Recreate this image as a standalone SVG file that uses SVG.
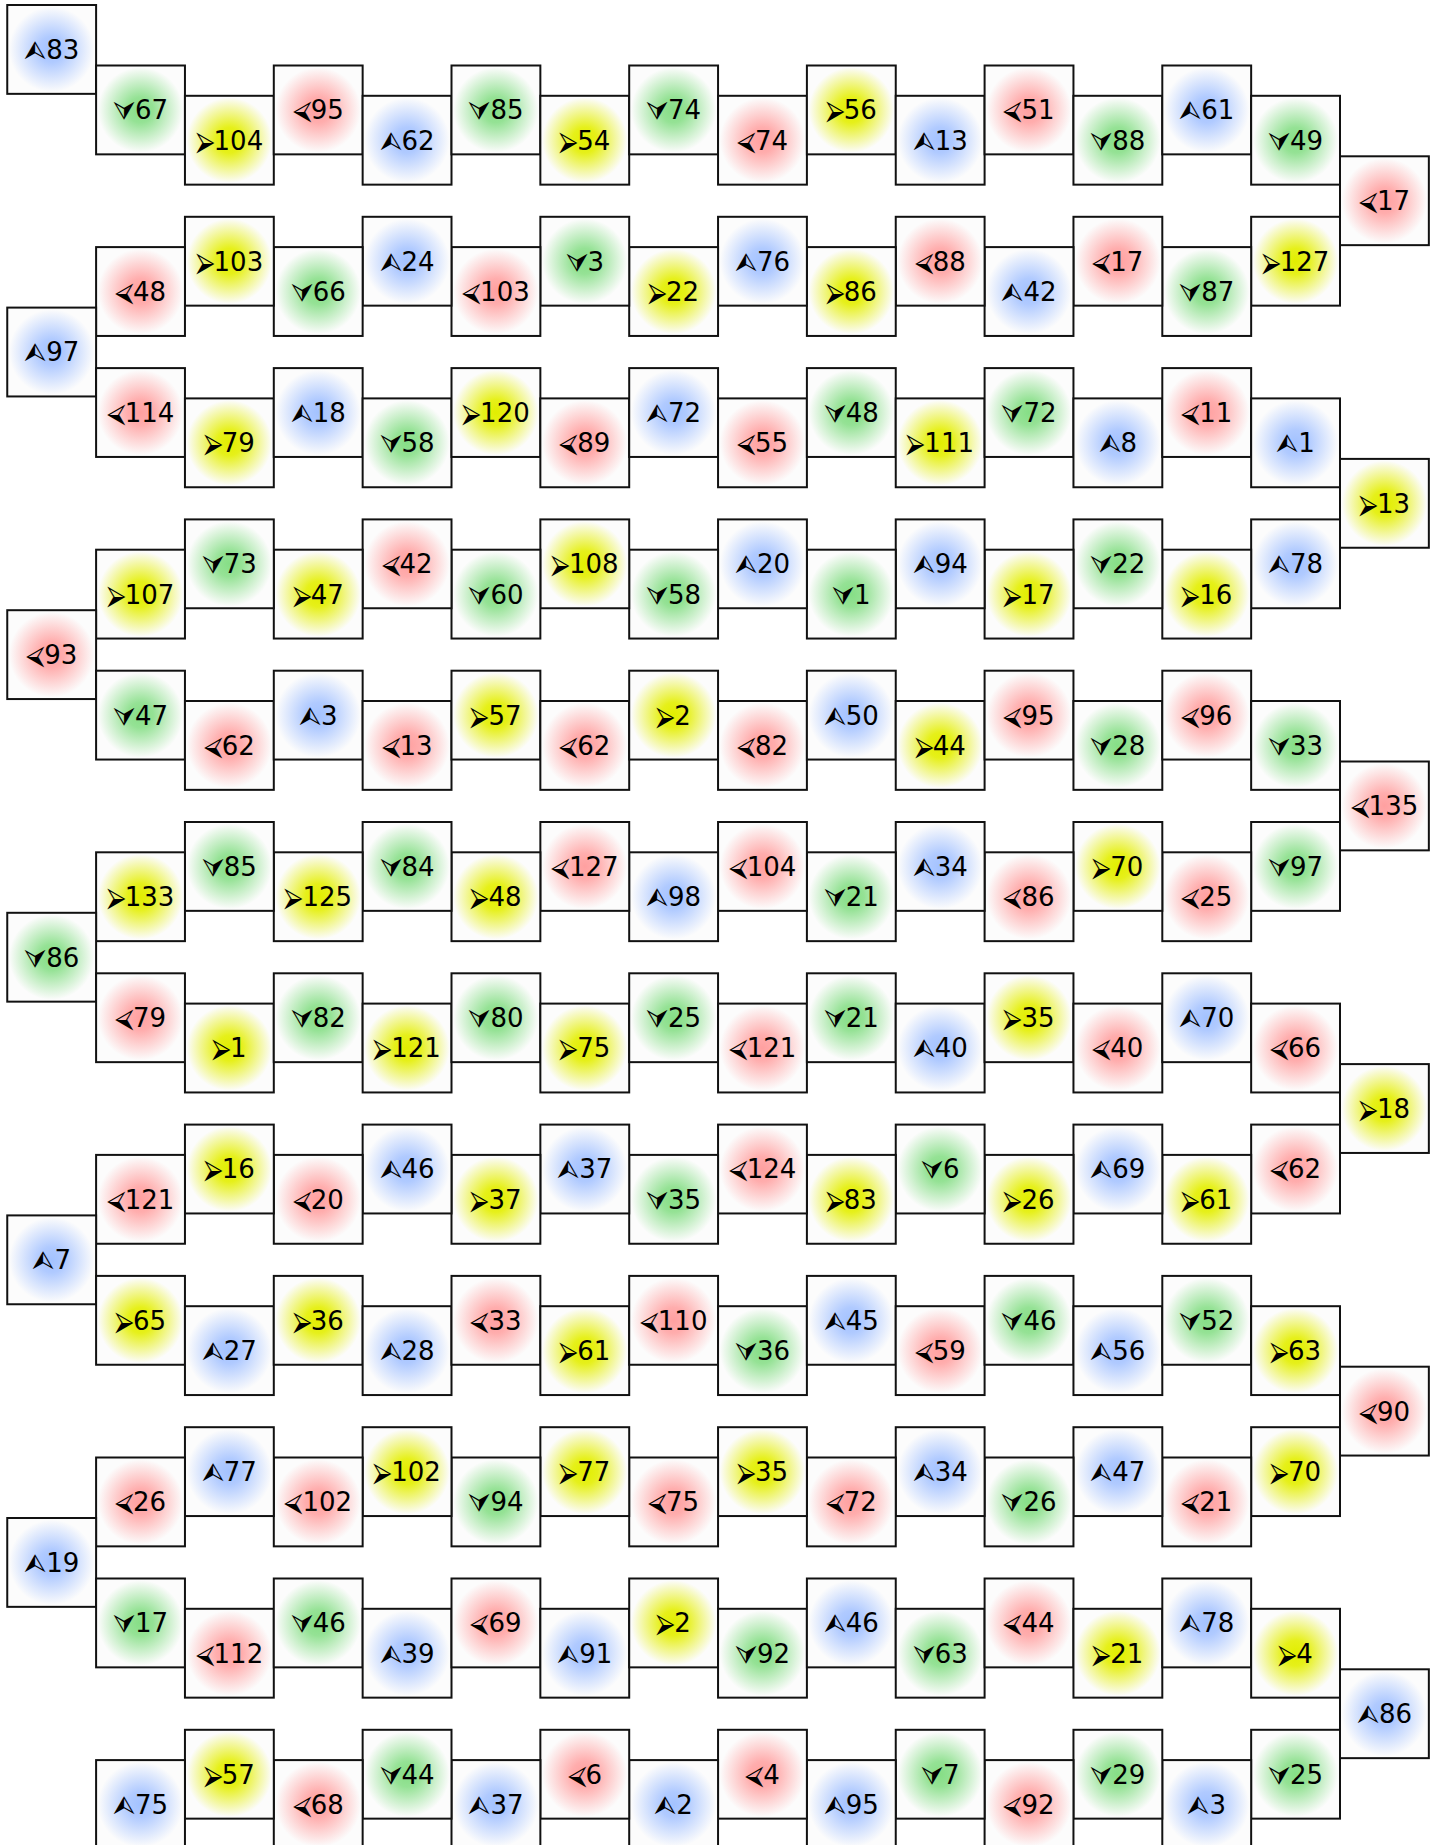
<svg xmlns="http://www.w3.org/2000/svg" width="1443" height="1845" viewBox="0 0 1443 1845">
<defs>
<radialGradient id="gu" cx="0.5" cy="0.5" r="0.48"><stop offset="0" stop-color="#a3c2ff"/><stop offset="0.3" stop-color="#b0caff"/><stop offset="1" stop-color="#fcfcfc"/></radialGradient>
<radialGradient id="gd" cx="0.5" cy="0.5" r="0.48"><stop offset="0" stop-color="#86de86"/><stop offset="0.3" stop-color="#95e295"/><stop offset="1" stop-color="#fcfcfc"/></radialGradient>
<radialGradient id="gl" cx="0.5" cy="0.5" r="0.48"><stop offset="0" stop-color="#ffa0a0"/><stop offset="0.3" stop-color="#ffadad"/><stop offset="1" stop-color="#fcfcfc"/></radialGradient>
<radialGradient id="gr" cx="0.5" cy="0.5" r="0.48"><stop offset="0" stop-color="#e2ee00"/><stop offset="0.3" stop-color="#e6f01a"/><stop offset="1" stop-color="#fcfcfc"/></radialGradient>
</defs>
<style>
#nodes rect{stroke:#111;stroke-width:2}
.u rect{fill:url(#gu)} .d rect{fill:url(#gd)} .l rect{fill:url(#gl)} .r rect{fill:url(#gr)}
#nodes text{font-family:"DejaVu Sans","Noto Sans",sans-serif;font-size:26px;fill:#000;text-anchor:middle}
</style>
<rect x="0" y="0" width="1443" height="1845" fill="#ffffff"/>
<g id="connectors"></g>
<g id="nodes">
<!-- k0 -->
<g id="n001" class="u" transform="translate(7.25,5)"><rect width="88.85" height="88.85"/><text x="44.43" y="53.9">⮙83</text></g>
<g id="n002" class="d" transform="translate(96.1,65.5)"><rect width="88.85" height="88.85"/><text x="44.43" y="53.9">⮛67</text></g>
<g id="n003" class="r" transform="translate(184.95,95.8)"><rect width="88.85" height="88.85"/><text x="44.43" y="53.9">⮚104</text></g>
<g id="n004" class="l" transform="translate(273.8,65.5)"><rect width="88.85" height="88.85"/><text x="44.43" y="53.9">⮘95</text></g>
<g id="n005" class="u" transform="translate(362.65,95.8)"><rect width="88.85" height="88.85"/><text x="44.43" y="53.9">⮙62</text></g>
<g id="n006" class="d" transform="translate(451.5,65.5)"><rect width="88.85" height="88.85"/><text x="44.43" y="53.9">⮛85</text></g>
<g id="n007" class="r" transform="translate(540.35,95.8)"><rect width="88.85" height="88.85"/><text x="44.43" y="53.9">⮚54</text></g>
<g id="n008" class="d" transform="translate(629.2,65.5)"><rect width="88.85" height="88.85"/><text x="44.43" y="53.9">⮛74</text></g>
<g id="n009" class="l" transform="translate(718.05,95.8)"><rect width="88.85" height="88.85"/><text x="44.43" y="53.9">⮘74</text></g>
<g id="n010" class="r" transform="translate(806.9,65.5)"><rect width="88.85" height="88.85"/><text x="44.43" y="53.9">⮚56</text></g>
<g id="n011" class="u" transform="translate(895.75,95.8)"><rect width="88.85" height="88.85"/><text x="44.43" y="53.9">⮙13</text></g>
<g id="n012" class="l" transform="translate(984.6,65.5)"><rect width="88.85" height="88.85"/><text x="44.43" y="53.9">⮘51</text></g>
<g id="n013" class="d" transform="translate(1073.45,95.8)"><rect width="88.85" height="88.85"/><text x="44.43" y="53.9">⮛88</text></g>
<g id="n014" class="u" transform="translate(1162.3,65.5)"><rect width="88.85" height="88.85"/><text x="44.43" y="53.9">⮙61</text></g>
<g id="n015" class="d" transform="translate(1251.15,95.8)"><rect width="88.85" height="88.85"/><text x="44.43" y="53.9">⮛49</text></g>
<!-- k1 -->
<g id="n016" class="l" transform="translate(1340,156.3)"><rect width="88.85" height="88.85"/><text x="44.43" y="53.9">⮘17</text></g>
<g id="n017" class="r" transform="translate(1251.15,216.8)"><rect width="88.85" height="88.85"/><text x="44.43" y="53.9">⮚127</text></g>
<g id="n018" class="d" transform="translate(1162.3,247.1)"><rect width="88.85" height="88.85"/><text x="44.43" y="53.9">⮛87</text></g>
<g id="n019" class="l" transform="translate(1073.45,216.8)"><rect width="88.85" height="88.85"/><text x="44.43" y="53.9">⮘17</text></g>
<g id="n020" class="u" transform="translate(984.6,247.1)"><rect width="88.85" height="88.85"/><text x="44.43" y="53.9">⮙42</text></g>
<g id="n021" class="l" transform="translate(895.75,216.8)"><rect width="88.85" height="88.85"/><text x="44.43" y="53.9">⮘88</text></g>
<g id="n022" class="r" transform="translate(806.9,247.1)"><rect width="88.85" height="88.85"/><text x="44.43" y="53.9">⮚86</text></g>
<g id="n023" class="u" transform="translate(718.05,216.8)"><rect width="88.85" height="88.85"/><text x="44.43" y="53.9">⮙76</text></g>
<g id="n024" class="r" transform="translate(629.2,247.1)"><rect width="88.85" height="88.85"/><text x="44.43" y="53.9">⮚22</text></g>
<g id="n025" class="d" transform="translate(540.35,216.8)"><rect width="88.85" height="88.85"/><text x="44.43" y="53.9">⮛3</text></g>
<g id="n026" class="l" transform="translate(451.5,247.1)"><rect width="88.85" height="88.85"/><text x="44.43" y="53.9">⮘103</text></g>
<g id="n027" class="u" transform="translate(362.65,216.8)"><rect width="88.85" height="88.85"/><text x="44.43" y="53.9">⮙24</text></g>
<g id="n028" class="d" transform="translate(273.8,247.1)"><rect width="88.85" height="88.85"/><text x="44.43" y="53.9">⮛66</text></g>
<g id="n029" class="r" transform="translate(184.95,216.8)"><rect width="88.85" height="88.85"/><text x="44.43" y="53.9">⮚103</text></g>
<g id="n030" class="l" transform="translate(96.1,247.1)"><rect width="88.85" height="88.85"/><text x="44.43" y="53.9">⮘48</text></g>
<!-- k2 -->
<g id="n031" class="u" transform="translate(7.25,307.6)"><rect width="88.85" height="88.85"/><text x="44.43" y="53.9">⮙97</text></g>
<g id="n032" class="l" transform="translate(96.1,368.1)"><rect width="88.85" height="88.85"/><text x="44.43" y="53.9">⮘114</text></g>
<g id="n033" class="r" transform="translate(184.95,398.4)"><rect width="88.85" height="88.85"/><text x="44.43" y="53.9">⮚79</text></g>
<g id="n034" class="u" transform="translate(273.8,368.1)"><rect width="88.85" height="88.85"/><text x="44.43" y="53.9">⮙18</text></g>
<g id="n035" class="d" transform="translate(362.65,398.4)"><rect width="88.85" height="88.85"/><text x="44.43" y="53.9">⮛58</text></g>
<g id="n036" class="r" transform="translate(451.5,368.1)"><rect width="88.85" height="88.85"/><text x="44.43" y="53.9">⮚120</text></g>
<g id="n037" class="l" transform="translate(540.35,398.4)"><rect width="88.85" height="88.85"/><text x="44.43" y="53.9">⮘89</text></g>
<g id="n038" class="u" transform="translate(629.2,368.1)"><rect width="88.85" height="88.85"/><text x="44.43" y="53.9">⮙72</text></g>
<g id="n039" class="l" transform="translate(718.05,398.4)"><rect width="88.85" height="88.85"/><text x="44.43" y="53.9">⮘55</text></g>
<g id="n040" class="d" transform="translate(806.9,368.1)"><rect width="88.85" height="88.85"/><text x="44.43" y="53.9">⮛48</text></g>
<g id="n041" class="r" transform="translate(895.75,398.4)"><rect width="88.85" height="88.85"/><text x="44.43" y="53.9">⮚111</text></g>
<g id="n042" class="d" transform="translate(984.6,368.1)"><rect width="88.85" height="88.85"/><text x="44.43" y="53.9">⮛72</text></g>
<g id="n043" class="u" transform="translate(1073.45,398.4)"><rect width="88.85" height="88.85"/><text x="44.43" y="53.9">⮙8</text></g>
<g id="n044" class="l" transform="translate(1162.3,368.1)"><rect width="88.85" height="88.85"/><text x="44.43" y="53.9">⮘11</text></g>
<g id="n045" class="u" transform="translate(1251.15,398.4)"><rect width="88.85" height="88.85"/><text x="44.43" y="53.9">⮙1</text></g>
<!-- k3 -->
<g id="n046" class="r" transform="translate(1340,458.9)"><rect width="88.85" height="88.85"/><text x="44.43" y="53.9">⮚13</text></g>
<g id="n047" class="u" transform="translate(1251.15,519.4)"><rect width="88.85" height="88.85"/><text x="44.43" y="53.9">⮙78</text></g>
<g id="n048" class="r" transform="translate(1162.3,549.7)"><rect width="88.85" height="88.85"/><text x="44.43" y="53.9">⮚16</text></g>
<g id="n049" class="d" transform="translate(1073.45,519.4)"><rect width="88.85" height="88.85"/><text x="44.43" y="53.9">⮛22</text></g>
<g id="n050" class="r" transform="translate(984.6,549.7)"><rect width="88.85" height="88.85"/><text x="44.43" y="53.9">⮚17</text></g>
<g id="n051" class="u" transform="translate(895.75,519.4)"><rect width="88.85" height="88.85"/><text x="44.43" y="53.9">⮙94</text></g>
<g id="n052" class="d" transform="translate(806.9,549.7)"><rect width="88.85" height="88.85"/><text x="44.43" y="53.9">⮛1</text></g>
<g id="n053" class="u" transform="translate(718.05,519.4)"><rect width="88.85" height="88.85"/><text x="44.43" y="53.9">⮙20</text></g>
<g id="n054" class="d" transform="translate(629.2,549.7)"><rect width="88.85" height="88.85"/><text x="44.43" y="53.9">⮛58</text></g>
<g id="n055" class="r" transform="translate(540.35,519.4)"><rect width="88.85" height="88.85"/><text x="44.43" y="53.9">⮚108</text></g>
<g id="n056" class="d" transform="translate(451.5,549.7)"><rect width="88.85" height="88.85"/><text x="44.43" y="53.9">⮛60</text></g>
<g id="n057" class="l" transform="translate(362.65,519.4)"><rect width="88.85" height="88.85"/><text x="44.43" y="53.9">⮘42</text></g>
<g id="n058" class="r" transform="translate(273.8,549.7)"><rect width="88.85" height="88.85"/><text x="44.43" y="53.9">⮚47</text></g>
<g id="n059" class="d" transform="translate(184.95,519.4)"><rect width="88.85" height="88.85"/><text x="44.43" y="53.9">⮛73</text></g>
<g id="n060" class="r" transform="translate(96.1,549.7)"><rect width="88.85" height="88.85"/><text x="44.43" y="53.9">⮚107</text></g>
<!-- k4 -->
<g id="n061" class="l" transform="translate(7.25,610.2)"><rect width="88.85" height="88.85"/><text x="44.43" y="53.9">⮘93</text></g>
<g id="n062" class="d" transform="translate(96.1,670.7)"><rect width="88.85" height="88.85"/><text x="44.43" y="53.9">⮛47</text></g>
<g id="n063" class="l" transform="translate(184.95,701)"><rect width="88.85" height="88.85"/><text x="44.43" y="53.9">⮘62</text></g>
<g id="n064" class="u" transform="translate(273.8,670.7)"><rect width="88.85" height="88.85"/><text x="44.43" y="53.9">⮙3</text></g>
<g id="n065" class="l" transform="translate(362.65,701)"><rect width="88.85" height="88.85"/><text x="44.43" y="53.9">⮘13</text></g>
<g id="n066" class="r" transform="translate(451.5,670.7)"><rect width="88.85" height="88.85"/><text x="44.43" y="53.9">⮚57</text></g>
<g id="n067" class="l" transform="translate(540.35,701)"><rect width="88.85" height="88.85"/><text x="44.43" y="53.9">⮘62</text></g>
<g id="n068" class="r" transform="translate(629.2,670.7)"><rect width="88.85" height="88.85"/><text x="44.43" y="53.9">⮚2</text></g>
<g id="n069" class="l" transform="translate(718.05,701)"><rect width="88.85" height="88.85"/><text x="44.43" y="53.9">⮘82</text></g>
<g id="n070" class="u" transform="translate(806.9,670.7)"><rect width="88.85" height="88.85"/><text x="44.43" y="53.9">⮙50</text></g>
<g id="n071" class="r" transform="translate(895.75,701)"><rect width="88.85" height="88.85"/><text x="44.43" y="53.9">⮚44</text></g>
<g id="n072" class="l" transform="translate(984.6,670.7)"><rect width="88.85" height="88.85"/><text x="44.43" y="53.9">⮘95</text></g>
<g id="n073" class="d" transform="translate(1073.45,701)"><rect width="88.85" height="88.85"/><text x="44.43" y="53.9">⮛28</text></g>
<g id="n074" class="l" transform="translate(1162.3,670.7)"><rect width="88.85" height="88.85"/><text x="44.43" y="53.9">⮘96</text></g>
<g id="n075" class="d" transform="translate(1251.15,701)"><rect width="88.85" height="88.85"/><text x="44.43" y="53.9">⮛33</text></g>
<!-- k5 -->
<g id="n076" class="l" transform="translate(1340,761.5)"><rect width="88.85" height="88.85"/><text x="44.43" y="53.9">⮘135</text></g>
<g id="n077" class="d" transform="translate(1251.15,822)"><rect width="88.85" height="88.85"/><text x="44.43" y="53.9">⮛97</text></g>
<g id="n078" class="l" transform="translate(1162.3,852.3)"><rect width="88.85" height="88.85"/><text x="44.43" y="53.9">⮘25</text></g>
<g id="n079" class="r" transform="translate(1073.45,822)"><rect width="88.85" height="88.85"/><text x="44.43" y="53.9">⮚70</text></g>
<g id="n080" class="l" transform="translate(984.6,852.3)"><rect width="88.85" height="88.85"/><text x="44.43" y="53.9">⮘86</text></g>
<g id="n081" class="u" transform="translate(895.75,822)"><rect width="88.85" height="88.85"/><text x="44.43" y="53.9">⮙34</text></g>
<g id="n082" class="d" transform="translate(806.9,852.3)"><rect width="88.85" height="88.85"/><text x="44.43" y="53.9">⮛21</text></g>
<g id="n083" class="l" transform="translate(718.05,822)"><rect width="88.85" height="88.85"/><text x="44.43" y="53.9">⮘104</text></g>
<g id="n084" class="u" transform="translate(629.2,852.3)"><rect width="88.85" height="88.85"/><text x="44.43" y="53.9">⮙98</text></g>
<g id="n085" class="l" transform="translate(540.35,822)"><rect width="88.85" height="88.85"/><text x="44.43" y="53.9">⮘127</text></g>
<g id="n086" class="r" transform="translate(451.5,852.3)"><rect width="88.85" height="88.85"/><text x="44.43" y="53.9">⮚48</text></g>
<g id="n087" class="d" transform="translate(362.65,822)"><rect width="88.85" height="88.85"/><text x="44.43" y="53.9">⮛84</text></g>
<g id="n088" class="r" transform="translate(273.8,852.3)"><rect width="88.85" height="88.85"/><text x="44.43" y="53.9">⮚125</text></g>
<g id="n089" class="d" transform="translate(184.95,822)"><rect width="88.85" height="88.85"/><text x="44.43" y="53.9">⮛85</text></g>
<g id="n090" class="r" transform="translate(96.1,852.3)"><rect width="88.85" height="88.85"/><text x="44.43" y="53.9">⮚133</text></g>
<!-- k6 -->
<g id="n091" class="d" transform="translate(7.25,912.8)"><rect width="88.85" height="88.85"/><text x="44.43" y="53.9">⮛86</text></g>
<g id="n092" class="l" transform="translate(96.1,973.3)"><rect width="88.85" height="88.85"/><text x="44.43" y="53.9">⮘79</text></g>
<g id="n093" class="r" transform="translate(184.95,1003.6)"><rect width="88.85" height="88.85"/><text x="44.43" y="53.9">⮚1</text></g>
<g id="n094" class="d" transform="translate(273.8,973.3)"><rect width="88.85" height="88.85"/><text x="44.43" y="53.9">⮛82</text></g>
<g id="n095" class="r" transform="translate(362.65,1003.6)"><rect width="88.85" height="88.85"/><text x="44.43" y="53.9">⮚121</text></g>
<g id="n096" class="d" transform="translate(451.5,973.3)"><rect width="88.85" height="88.85"/><text x="44.43" y="53.9">⮛80</text></g>
<g id="n097" class="r" transform="translate(540.35,1003.6)"><rect width="88.85" height="88.85"/><text x="44.43" y="53.9">⮚75</text></g>
<g id="n098" class="d" transform="translate(629.2,973.3)"><rect width="88.85" height="88.85"/><text x="44.43" y="53.9">⮛25</text></g>
<g id="n099" class="l" transform="translate(718.05,1003.6)"><rect width="88.85" height="88.85"/><text x="44.43" y="53.9">⮘121</text></g>
<g id="n100" class="d" transform="translate(806.9,973.3)"><rect width="88.85" height="88.85"/><text x="44.43" y="53.9">⮛21</text></g>
<g id="n101" class="u" transform="translate(895.75,1003.6)"><rect width="88.85" height="88.85"/><text x="44.43" y="53.9">⮙40</text></g>
<g id="n102" class="r" transform="translate(984.6,973.3)"><rect width="88.85" height="88.85"/><text x="44.43" y="53.9">⮚35</text></g>
<g id="n103" class="l" transform="translate(1073.45,1003.6)"><rect width="88.85" height="88.85"/><text x="44.43" y="53.9">⮘40</text></g>
<g id="n104" class="u" transform="translate(1162.3,973.3)"><rect width="88.85" height="88.85"/><text x="44.43" y="53.9">⮙70</text></g>
<g id="n105" class="l" transform="translate(1251.15,1003.6)"><rect width="88.85" height="88.85"/><text x="44.43" y="53.9">⮘66</text></g>
<!-- k7 -->
<g id="n106" class="r" transform="translate(1340,1064.1)"><rect width="88.85" height="88.85"/><text x="44.43" y="53.9">⮚18</text></g>
<g id="n107" class="l" transform="translate(1251.15,1124.6)"><rect width="88.85" height="88.85"/><text x="44.43" y="53.9">⮘62</text></g>
<g id="n108" class="r" transform="translate(1162.3,1154.9)"><rect width="88.85" height="88.85"/><text x="44.43" y="53.9">⮚61</text></g>
<g id="n109" class="u" transform="translate(1073.45,1124.6)"><rect width="88.85" height="88.85"/><text x="44.43" y="53.9">⮙69</text></g>
<g id="n110" class="r" transform="translate(984.6,1154.9)"><rect width="88.85" height="88.85"/><text x="44.43" y="53.9">⮚26</text></g>
<g id="n111" class="d" transform="translate(895.75,1124.6)"><rect width="88.85" height="88.85"/><text x="44.43" y="53.9">⮛6</text></g>
<g id="n112" class="r" transform="translate(806.9,1154.9)"><rect width="88.85" height="88.85"/><text x="44.43" y="53.9">⮚83</text></g>
<g id="n113" class="l" transform="translate(718.05,1124.6)"><rect width="88.85" height="88.85"/><text x="44.43" y="53.9">⮘124</text></g>
<g id="n114" class="d" transform="translate(629.2,1154.9)"><rect width="88.85" height="88.85"/><text x="44.43" y="53.9">⮛35</text></g>
<g id="n115" class="u" transform="translate(540.35,1124.6)"><rect width="88.85" height="88.85"/><text x="44.43" y="53.9">⮙37</text></g>
<g id="n116" class="r" transform="translate(451.5,1154.9)"><rect width="88.85" height="88.85"/><text x="44.43" y="53.9">⮚37</text></g>
<g id="n117" class="u" transform="translate(362.65,1124.6)"><rect width="88.85" height="88.85"/><text x="44.43" y="53.9">⮙46</text></g>
<g id="n118" class="l" transform="translate(273.8,1154.9)"><rect width="88.85" height="88.85"/><text x="44.43" y="53.9">⮘20</text></g>
<g id="n119" class="r" transform="translate(184.95,1124.6)"><rect width="88.85" height="88.85"/><text x="44.43" y="53.9">⮚16</text></g>
<g id="n120" class="l" transform="translate(96.1,1154.9)"><rect width="88.85" height="88.85"/><text x="44.43" y="53.9">⮘121</text></g>
<!-- k8 -->
<g id="n121" class="u" transform="translate(7.25,1215.4)"><rect width="88.85" height="88.85"/><text x="44.43" y="53.9">⮙7</text></g>
<g id="n122" class="r" transform="translate(96.1,1275.9)"><rect width="88.85" height="88.85"/><text x="44.43" y="53.9">⮚65</text></g>
<g id="n123" class="u" transform="translate(184.95,1306.2)"><rect width="88.85" height="88.85"/><text x="44.43" y="53.9">⮙27</text></g>
<g id="n124" class="r" transform="translate(273.8,1275.9)"><rect width="88.85" height="88.85"/><text x="44.43" y="53.9">⮚36</text></g>
<g id="n125" class="u" transform="translate(362.65,1306.2)"><rect width="88.85" height="88.85"/><text x="44.43" y="53.9">⮙28</text></g>
<g id="n126" class="l" transform="translate(451.5,1275.9)"><rect width="88.85" height="88.85"/><text x="44.43" y="53.9">⮘33</text></g>
<g id="n127" class="r" transform="translate(540.35,1306.2)"><rect width="88.85" height="88.85"/><text x="44.43" y="53.9">⮚61</text></g>
<g id="n128" class="l" transform="translate(629.2,1275.9)"><rect width="88.85" height="88.85"/><text x="44.43" y="53.9">⮘110</text></g>
<g id="n129" class="d" transform="translate(718.05,1306.2)"><rect width="88.85" height="88.85"/><text x="44.43" y="53.9">⮛36</text></g>
<g id="n130" class="u" transform="translate(806.9,1275.9)"><rect width="88.85" height="88.85"/><text x="44.43" y="53.9">⮙45</text></g>
<g id="n131" class="l" transform="translate(895.75,1306.2)"><rect width="88.85" height="88.85"/><text x="44.43" y="53.9">⮘59</text></g>
<g id="n132" class="d" transform="translate(984.6,1275.9)"><rect width="88.85" height="88.85"/><text x="44.43" y="53.9">⮛46</text></g>
<g id="n133" class="u" transform="translate(1073.45,1306.2)"><rect width="88.85" height="88.85"/><text x="44.43" y="53.9">⮙56</text></g>
<g id="n134" class="d" transform="translate(1162.3,1275.9)"><rect width="88.85" height="88.85"/><text x="44.43" y="53.9">⮛52</text></g>
<g id="n135" class="r" transform="translate(1251.15,1306.2)"><rect width="88.85" height="88.85"/><text x="44.43" y="53.9">⮚63</text></g>
<!-- k9 -->
<g id="n136" class="l" transform="translate(1340,1366.7)"><rect width="88.85" height="88.85"/><text x="44.43" y="53.9">⮘90</text></g>
<g id="n137" class="r" transform="translate(1251.15,1427.2)"><rect width="88.85" height="88.85"/><text x="44.43" y="53.9">⮚70</text></g>
<g id="n138" class="l" transform="translate(1162.3,1457.5)"><rect width="88.85" height="88.85"/><text x="44.43" y="53.9">⮘21</text></g>
<g id="n139" class="u" transform="translate(1073.45,1427.2)"><rect width="88.85" height="88.85"/><text x="44.43" y="53.9">⮙47</text></g>
<g id="n140" class="d" transform="translate(984.6,1457.5)"><rect width="88.85" height="88.85"/><text x="44.43" y="53.9">⮛26</text></g>
<g id="n141" class="u" transform="translate(895.75,1427.2)"><rect width="88.85" height="88.85"/><text x="44.43" y="53.9">⮙34</text></g>
<g id="n142" class="l" transform="translate(806.9,1457.5)"><rect width="88.85" height="88.85"/><text x="44.43" y="53.9">⮘72</text></g>
<g id="n143" class="r" transform="translate(718.05,1427.2)"><rect width="88.85" height="88.85"/><text x="44.43" y="53.9">⮚35</text></g>
<g id="n144" class="l" transform="translate(629.2,1457.5)"><rect width="88.85" height="88.85"/><text x="44.43" y="53.9">⮘75</text></g>
<g id="n145" class="r" transform="translate(540.35,1427.2)"><rect width="88.85" height="88.85"/><text x="44.43" y="53.9">⮚77</text></g>
<g id="n146" class="d" transform="translate(451.5,1457.5)"><rect width="88.85" height="88.85"/><text x="44.43" y="53.9">⮛94</text></g>
<g id="n147" class="r" transform="translate(362.65,1427.2)"><rect width="88.85" height="88.85"/><text x="44.43" y="53.9">⮚102</text></g>
<g id="n148" class="l" transform="translate(273.8,1457.5)"><rect width="88.85" height="88.85"/><text x="44.43" y="53.9">⮘102</text></g>
<g id="n149" class="u" transform="translate(184.95,1427.2)"><rect width="88.85" height="88.85"/><text x="44.43" y="53.9">⮙77</text></g>
<g id="n150" class="l" transform="translate(96.1,1457.5)"><rect width="88.85" height="88.85"/><text x="44.43" y="53.9">⮘26</text></g>
<!-- k10 -->
<g id="n151" class="u" transform="translate(7.25,1518)"><rect width="88.85" height="88.85"/><text x="44.43" y="53.9">⮙19</text></g>
<g id="n152" class="d" transform="translate(96.1,1578.5)"><rect width="88.85" height="88.85"/><text x="44.43" y="53.9">⮛17</text></g>
<g id="n153" class="l" transform="translate(184.95,1608.8)"><rect width="88.85" height="88.85"/><text x="44.43" y="53.9">⮘112</text></g>
<g id="n154" class="d" transform="translate(273.8,1578.5)"><rect width="88.85" height="88.85"/><text x="44.43" y="53.9">⮛46</text></g>
<g id="n155" class="u" transform="translate(362.65,1608.8)"><rect width="88.85" height="88.85"/><text x="44.43" y="53.9">⮙39</text></g>
<g id="n156" class="l" transform="translate(451.5,1578.5)"><rect width="88.85" height="88.85"/><text x="44.43" y="53.9">⮘69</text></g>
<g id="n157" class="u" transform="translate(540.35,1608.8)"><rect width="88.85" height="88.85"/><text x="44.43" y="53.9">⮙91</text></g>
<g id="n158" class="r" transform="translate(629.2,1578.5)"><rect width="88.85" height="88.85"/><text x="44.43" y="53.9">⮚2</text></g>
<g id="n159" class="d" transform="translate(718.05,1608.8)"><rect width="88.85" height="88.85"/><text x="44.43" y="53.9">⮛92</text></g>
<g id="n160" class="u" transform="translate(806.9,1578.5)"><rect width="88.85" height="88.85"/><text x="44.43" y="53.9">⮙46</text></g>
<g id="n161" class="d" transform="translate(895.75,1608.8)"><rect width="88.85" height="88.85"/><text x="44.43" y="53.9">⮛63</text></g>
<g id="n162" class="l" transform="translate(984.6,1578.5)"><rect width="88.85" height="88.85"/><text x="44.43" y="53.9">⮘44</text></g>
<g id="n163" class="r" transform="translate(1073.45,1608.8)"><rect width="88.85" height="88.85"/><text x="44.43" y="53.9">⮚21</text></g>
<g id="n164" class="u" transform="translate(1162.3,1578.5)"><rect width="88.85" height="88.85"/><text x="44.43" y="53.9">⮙78</text></g>
<g id="n165" class="r" transform="translate(1251.15,1608.8)"><rect width="88.85" height="88.85"/><text x="44.43" y="53.9">⮚4</text></g>
<!-- k11 -->
<g id="n166" class="u" transform="translate(1340,1669.3)"><rect width="88.85" height="88.85"/><text x="44.43" y="53.9">⮙86</text></g>
<g id="n167" class="d" transform="translate(1251.15,1729.8)"><rect width="88.85" height="88.85"/><text x="44.43" y="53.9">⮛25</text></g>
<g id="n168" class="u" transform="translate(1162.3,1760.1)"><rect width="88.85" height="88.85"/><text x="44.43" y="53.9">⮙3</text></g>
<g id="n169" class="d" transform="translate(1073.45,1729.8)"><rect width="88.85" height="88.85"/><text x="44.43" y="53.9">⮛29</text></g>
<g id="n170" class="l" transform="translate(984.6,1760.1)"><rect width="88.85" height="88.85"/><text x="44.43" y="53.9">⮘92</text></g>
<g id="n171" class="d" transform="translate(895.75,1729.8)"><rect width="88.85" height="88.85"/><text x="44.43" y="53.9">⮛7</text></g>
<g id="n172" class="u" transform="translate(806.9,1760.1)"><rect width="88.85" height="88.85"/><text x="44.43" y="53.9">⮙95</text></g>
<g id="n173" class="l" transform="translate(718.05,1729.8)"><rect width="88.85" height="88.85"/><text x="44.43" y="53.9">⮘4</text></g>
<g id="n174" class="u" transform="translate(629.2,1760.1)"><rect width="88.85" height="88.85"/><text x="44.43" y="53.9">⮙2</text></g>
<g id="n175" class="l" transform="translate(540.35,1729.8)"><rect width="88.85" height="88.85"/><text x="44.43" y="53.9">⮘6</text></g>
<g id="n176" class="u" transform="translate(451.5,1760.1)"><rect width="88.85" height="88.85"/><text x="44.43" y="53.9">⮙37</text></g>
<g id="n177" class="d" transform="translate(362.65,1729.8)"><rect width="88.85" height="88.85"/><text x="44.43" y="53.9">⮛44</text></g>
<g id="n178" class="l" transform="translate(273.8,1760.1)"><rect width="88.85" height="88.85"/><text x="44.43" y="53.9">⮘68</text></g>
<g id="n179" class="r" transform="translate(184.95,1729.8)"><rect width="88.85" height="88.85"/><text x="44.43" y="53.9">⮚57</text></g>
<g id="n180" class="u" transform="translate(96.1,1760.1)"><rect width="88.85" height="88.85"/><text x="44.43" y="53.9">⮙75</text></g>
</g>
</svg>
